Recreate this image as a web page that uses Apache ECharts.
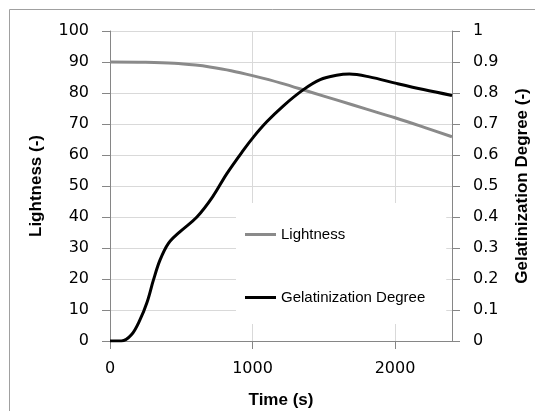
<!DOCTYPE html>
<html>
<head>
<meta charset="utf-8">
<script src="https://cdn.jsdelivr.net/npm/echarts@6/dist/echarts.min.js"></script>
<style>
  html, body { margin: 0; padding: 0; background: #fff; }
  #chart { width: 535px; height: 411px; }
</style>
</head>
<body>
<div id="chart"></div>
<script>
// values
const lightTime = [0, 250, 450, 600, 700, 850, 1000, 1200, 1400, 1600, 1800, 2000, 2200, 2400];
const lightness = [90, 89.9, 89.6, 89.0, 88.4, 87.2, 85.6, 83.2, 80.4, 77.6, 74.8, 72.0, 69.0, 65.9];

const gelTime = [0, 80, 150, 210, 260, 305, 350, 410, 490, 610, 720, 820, 935, 1005, 1100, 1215, 1355, 1475, 1590, 1680, 1820, 2010, 2200, 2400];
const gelDegree = [0, 0, 0.02, 0.068, 0.125, 0.197, 0.26, 0.315, 0.352, 0.4, 0.465, 0.54, 0.615, 0.657, 0.707, 0.758, 0.81, 0.843, 0.857, 0.861, 0.852, 0.831, 0.811, 0.792];

const seriesNames = ["Lightness", "Gelatinization Degree"];

const tickFont = "DejaVu Sans";
const textFont = "Liberation Sans";
const axisGray = "#868686";
const gridGray = "#d9d9d9";

function pairs(xs, ys) {
  return xs.map(function (x, i) { return [x, ys[i]]; });
}

const chart = echarts.init(document.getElementById("chart"));

const option = {
  backgroundColor: "#fff",
  animation: false,
  graphic: [{
    type: "rect",
    shape: { x: 9.5, y: 9.5, width: 700, height: 600 },
    style: { fill: "none", stroke: "#a0a0a0", lineWidth: 1 },
    silent: true
  }],
  grid: { left: 110, right: 83, top: 31, bottom: 70, outerBoundsMode: "none" },
  legend: {
    data: seriesNames,
    orient: "vertical",
    left: 236,
    top: 203,
    padding: [24, 21, 19, 9],
    itemGap: 48,
    itemWidth: 31,
    itemHeight: 3,
    icon: "rect",
    backgroundColor: "#fff",
    textStyle: { fontFamily: textFont, fontSize: 15, color: "#000" }
  },
  xAxis: {
    type: "value",
    min: 0,
    max: 2400,
    interval: 1000,
    name: "Time (s)",
    nameLocation: "middle",
    nameGap: 51,
    nameTextStyle: { fontFamily: textFont, fontSize: 17, fontWeight: "bold", color: "#000" },
    axisLine: { show: true, lineStyle: { color: axisGray } },
    axisTick: { show: true, length: 8, lineStyle: { color: axisGray } },
    axisLabel: {
      showMaxLabel: false, margin: 20, fontFamily: tickFont, fontSize: 16, color: "#000",
      formatter: function (v) { return String(v); }
    },
    splitLine: { show: true, lineStyle: { color: gridGray } }
  },
  yAxis: [{
    type: "value",
    min: 0,
    max: 100,
    interval: 10,
    name: "Lightness (-)",
    nameLocation: "middle",
    nameRotate: 90,
    nameGap: 65,
    nameTextStyle: { fontFamily: textFont, fontSize: 17, fontWeight: "bold", color: "#000" },
    axisLine: { show: true, lineStyle: { color: axisGray } },
    axisTick: { show: true, length: 8, lineStyle: { color: axisGray } },
    axisLabel: { margin: 21, fontFamily: tickFont, fontSize: 16, color: "#000" },
    splitLine: { show: true, lineStyle: { color: gridGray } }
  }, {
    type: "value",
    position: "right",
    min: 0,
    max: 1,
    interval: 0.1,
    name: "Gelatinization Degree (-)",
    nameLocation: "middle",
    nameRotate: 90,
    nameGap: 62,
    nameTextStyle: { fontFamily: textFont, fontSize: 17, fontWeight: "bold", color: "#000" },
    axisLine: { show: true, lineStyle: { color: axisGray } },
    axisTick: { show: true, length: 8, lineStyle: { color: axisGray } },
    axisLabel: { margin: 21, fontFamily: tickFont, fontSize: 16, color: "#000" },
    splitLine: { show: false }
  }],
  series: [{
    name: seriesNames[0],
    type: "line",
    yAxisIndex: 0,
    smooth: 0.35,
    symbol: "none",
    itemStyle: { color: "#8a8a8a" },
    lineStyle: { color: "#8a8a8a", width: 3 },
    data: pairs(lightTime, lightness)
  }, {
    name: seriesNames[1],
    type: "line",
    yAxisIndex: 1,
    smooth: 0.35,
    symbol: "none",
    itemStyle: { color: "#000" },
    lineStyle: { color: "#000", width: 3 },
    data: pairs(gelTime, gelDegree)
  }]
};

chart.setOption(option);
</script>
</body>
</html>
